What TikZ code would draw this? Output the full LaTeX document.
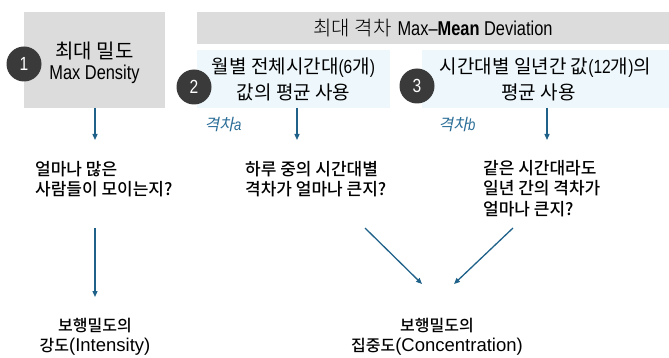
\documentclass[tikz,border=0pt]{standalone}
\usepackage{fontspec}
\usetikzlibrary{arrows.meta}
\newfontfamily\kr{Noto Sans CJK KR}
\newfontfamily\krl{Noto Sans CJK KR Light}
\newfontfamily\krm{Noto Sans CJK KR Medium}
\newfontfamily\krit{Noto Sans CJK KR}[FakeSlant=0.2]
\newfontfamily\nar{Liberation Sans}[FakeStretch=0.82]
\newfontfamily\lat{Liberation Sans}
\definecolor{boxgray}{HTML}{DCDCDC}
\definecolor{boxblue}{HTML}{EEF8FC}
\definecolor{numdark}{HTML}{3A3A3A}
\definecolor{arrowblue}{HTML}{1F6189}
\definecolor{labelblue}{HTML}{2B6E98}
\begin{document}
\begin{tikzpicture}[x=1pt,y=-1pt,
  graybox/.style={fill=boxgray, draw=none, inner sep=0pt, align=center},
  bluebox/.style={fill=boxblue, draw=none, inner sep=0pt, align=center},
  numcircle/.style={circle, fill=numdark, draw=none, minimum size=35pt, inner sep=0pt, text=white, font=\nar\fontsize{19}{19}\selectfont},
  question/.style={inner sep=0pt, align=left, font=\krm\fontsize{17}{20.5}\selectfont},
  result/.style={inner sep=0pt, align=center, font=\krm\fontsize{16}{20}\selectfont},
  gaplabel/.style={inner sep=0pt, text=labelblue, font=\fontsize{16}{16}\selectfont},
  flow/.style={draw=arrowblue, line width=1.3pt, -{Triangle[length=6pt,width=5pt]}}
]
\useasboundingbox (0,0) rectangle (669,358);
\fill[white] (0,0) rectangle (669,358);

% boxes
\node[graybox, minimum width=141pt, minimum height=96pt] (box1) at (94.5,60) {};
\node[inner sep=0pt, align=center, font=\fontsize{20}{21}\selectfont] (t1) at (94.5,63)
  {{\kr 최대 밀도}\\{\nar Max Density}};
\node[graybox, minimum width=472pt, minimum height=32pt, font=\fontsize{20}{20}\selectfont] (banner) at (433,28)
  {{\krl 최대 격차} {\nar Max–\textbf{Mean} Deviation}};
\node[bluebox, minimum width=193pt, minimum height=58pt, font=\fontsize{19}{26}\selectfont] (box2) at (293.5,79)
  {{\kr 월별 전체시간대}{\nar(6}{\kr 개}{\nar)}\\{\kr 값의 평균 사용}};
\node[bluebox, minimum width=247pt, minimum height=58pt, font=\fontsize{19}{26}\selectfont] (box3) at (545.5,79)
  {{\kr 시간대별 일년간 값}{\nar(12}{\kr 개}{\nar)}{\kr 의}\\{\kr 평균 사용}\hspace*{14pt}};

% number circles
\node[numcircle] (n1) at (24,64) {1};
\node[numcircle] (n2) at (194,87) {2};
\node[numcircle] (n3) at (417,86) {3};

% gap labels
\node[gaplabel] (ga) at (223,125) {{\krit 격차}{\nar\itshape a}};
\node[gaplabel] (gb) at (457,125) {{\krit 격차}{\nar\itshape b}};

% questions
\node[question, anchor=west] (q1) at (35,179) {얼마나 많은\\사람들이 모이는지?};
\node[question, anchor=west] (q2) at (245,179) {하루 중의 시간대별\\격차가 얼마나 큰지?};
\node[question, anchor=west] (q3) at (483,188.5) {같은 시간대라도\\일년 간의 격차가\\얼마나 큰지?};

% results
\node[result] (r1) at (95,337) {보행밀도의\\강도{\lat\fontsize{18.5}{20}\selectfont(Intensity)}};
\node[result] (r2) at (437,337) {보행밀도의\\집중도{\lat\fontsize{18.5}{20}\selectfont(Concentration)}};

% connector ends
\coordinate (s1) at (95,108);
\coordinate (e1) at (95,140);
\coordinate (s2) at (297,108);
\coordinate (e2) at (297,140);
\coordinate (s3) at (547,108);
\coordinate (e3) at (547,140);
\coordinate (s4) at (95,228);
\coordinate (e4) at (95,297);
\coordinate (s5) at (365,228);
\coordinate (e5) at (422,284);
\coordinate (s6) at (513,228);
\coordinate (e6) at (454,284);

\draw[flow] (s1) -- (e1);
\draw[flow] (s2) -- (e2);
\draw[flow] (s3) -- (e3);
\draw[flow] (s4) -- (e4);
\draw[flow] (s5) -- (e5);
\draw[flow] (s6) -- (e6);
\end{tikzpicture}
\end{document}
